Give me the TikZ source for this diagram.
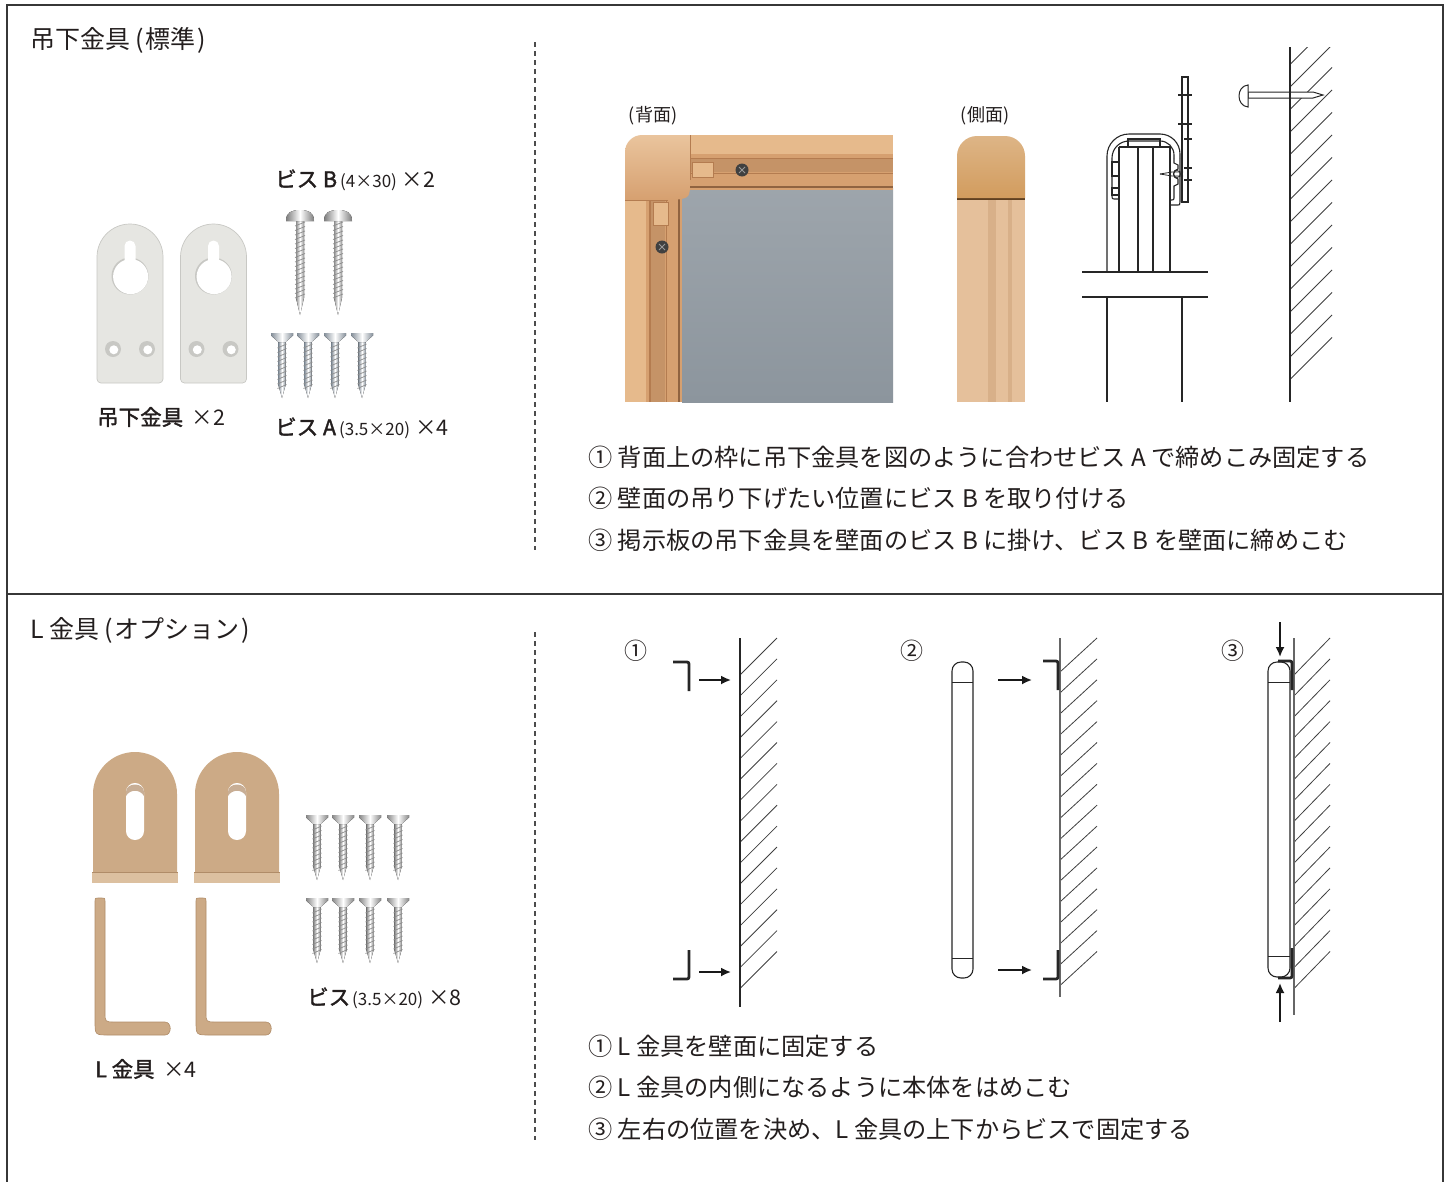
\documentclass[tikz,border=0pt]{standalone}
\usepackage{fontspec}
\newfontfamily\cjk{Noto Sans CJK JP}
\newfontfamily\cjkb{Noto Sans CJK JP}[FakeBold=1.6]
\usetikzlibrary{arrows.meta}

\definecolor{ink}{RGB}{35,30,30}
\definecolor{rulec}{RGB}{55,55,55}
\definecolor{plate}{RGB}{230,230,226}
\definecolor{plateedge}{RGB}{200,200,196}
\definecolor{tanbase}{RGB}{214,160,112}
\definecolor{tanlight}{RGB}{230,186,140}
\definecolor{tandark}{RGB}{180,124,80}
\definecolor{boardc}{RGB}{140,149,157}
\definecolor{capc}{RGB}{210,156,94}
\definecolor{woodc}{RGB}{229,192,155}
\definecolor{woodd}{RGB}{216,176,137}
\definecolor{lbr}{RGB}{204,170,134}
\definecolor{lbrlight}{RGB}{220,192,160}
\definecolor{lbrdark}{RGB}{176,140,104}
\definecolor{steelA}{RGB}{176,190,204}
\definecolor{steelB}{RGB}{178,178,178}

\tikzset{
  txt/.style={anchor=west, inner sep=0, text=ink, font={\cjk\fontsize{24.2}{27}\selectfont}},
  head/.style={anchor=west, inner sep=0, text=ink, font={\cjk\fontsize{25}{28}\selectfont}},
  lbl/.style={anchor=west, inner sep=0, text=ink, font={\cjk\fontsize{21.5}{24}\selectfont}},
  num/.style={inner sep=0, text=ink, font={\cjk\fontsize{23}{25}\selectfont}},
  line/.style={line width=1.1, draw=black!85},
  hatch/.style={line width=0.8, draw=black!75},
  bracketline/.style={line width=2.8, draw=black!85, rounded corners=2},
  push/.style={line width=1.8, draw=black!90, -{Latex[length=10,width=9]}},
  % hanger plate, origin at top centre
  hangplate/.pic={
    \fill[plate, draw=plateedge, line width=0.7] (-33,34) -- (-33,156) arc[start angle=180,end angle=90,radius=4]
      -- (29,160) arc[start angle=90,end angle=0,radius=4] -- (33,34)
      arc[start angle=0,end angle=-180,radius=33] -- cycle;
    \fill[plateedge] (0,53) circle (18.5);
    \fill[white] (0.6,53.6) circle (17.5);
    \fill[white] (-5.5,53) -- (-5.5,23) arc[start angle=180,end angle=360,radius=5.5] -- (5.5,53) -- cycle;
    \foreach \hx in {-17,17}{
      \fill[plateedge] (\hx,126) circle (8);
      \fill[white] (\hx+0.8,126.8) circle (4.5);
    }
  },
  % pan head screw, origin at top of head
  panscrew/.pic={
    \fill[left color=steelB!80!black, right color=steelB!80!black, middle color=white]
      (-4,9) -- (4,9) -- (4,88) -- (0,105) -- (-4,88) -- cycle;
    \foreach \t in {14,18.5,...,88}
      \draw[black!45, line width=0.7] (-5,\t+2) -- (5,\t-2);
    \fill[left color=steelB!70!black, right color=steelB!70!black, middle color=white]
      (-14,11) .. controls (-14,2) and (-8,0) .. (0,0) .. controls (8,0) and (14,2) .. (14,11) -- cycle;
  },
  % countersunk screw, origin at top of head
  cskscrew/.pic={
    \fill[left color=\pgfkeysvalueof{/tikz/screwtone}!75!black, right color=\pgfkeysvalueof{/tikz/screwtone}!75!black, middle color=white]
      (-3.6,9) -- (3.6,9) -- (3.6,52) -- (0,65) -- (-3.6,52) -- cycle;
    \foreach \t in {13,17.5,...,56}
      \draw[black!45, line width=0.7] (-4.6,\t+2) -- (4.6,\t-2);
    \fill[left color=\pgfkeysvalueof{/tikz/screwtone}!75!black, right color=\pgfkeysvalueof{/tikz/screwtone}!75!black, middle color=white]
      (-11,0) -- (11,0) -- (11,2.5) -- (3.6,9) -- (-3.6,9) -- (-11,2.5) -- cycle;
  },
  screwtone/.initial=steelB,
  % L bracket, front face, origin at top centre
  lfront/.pic={
    \fill[lbr] (-42,120) -- (-42,42) arc[start angle=180,end angle=360,radius=42] -- (42,120) -- cycle;
    \fill[lbrlight] (-43,120) rectangle (43,131);
    \draw[lbrdark, line width=0.8] (-43,120) -- (43,120);
    \fill[white, rounded corners=8.9] (-9,31) rectangle (9,88);
    \fill[lbrdark!70] (-9,40) .. controls (-9,30) and (9,30) .. (9,40) -- (9,44) .. controls (5,37) and (-5,37) .. (-9,44) -- cycle;
  },
  % L bracket, side profile, origin at top left
  lside/.pic={
    \fill[lbr, draw=lbrdark, line width=0.6] (0,3) .. controls (0,0) .. (3,0) -- (7,0) .. controls (10,0) .. (10,3)
      -- (10,114) .. controls (10,124) .. (20,124) -- (70,124) .. controls (77,124) and (77,137) .. (70,137)
      -- (14,137) .. controls (0,137) .. (0,123) -- cycle;
  },
}

\begin{document}
\begin{tikzpicture}[x=1pt,y=-1pt]
\useasboundingbox (0,0) rectangle (1451,1181);
\fill[white] (0,0) rectangle (1451,1181);

% outer frame and divider
\draw[rulec, line width=2.2] (7,1200) -- (7,5) -- (1443,5) -- (1443,1200);
\draw[rulec, line width=2.2] (7,594) -- (1443,594);
\draw[black!70, line width=1.1, dash pattern=on 5pt off 4pt] (535,42) -- (535,550);
\draw[black!70, line width=1.1, dash pattern=on 5pt off 4pt] (535,632) -- (535,1140);

% ================= upper section =================
\node[head] (t1) at (30,40) {吊下金具\hspace{5pt}(\hspace{2pt}標準\hspace{2pt})};

% hanger plates
\pic at (130,223) {hangplate};
\pic at (213.5,223) {hangplate};
\node[lbl] (l1) at (97,417) {{\cjkb 吊下金具}\, ×2};

% screws B and A
\pic at (300,210) {panscrew};
\pic at (338,210) {panscrew};
\foreach \sx in {282,308,335,362}
  \pic[screwtone=steelA] at (\sx,333) {cskscrew};
\node[lbl] (l2) at (275,180) {{\cjkb ビス B}\hspace{3pt}{\cjk\fontsize{17}{19}\selectfont (4×30)}\hspace{5pt}×2};
\node[lbl] (l3) at (275,428) {{\cjkb ビス A}\hspace{3pt}{\cjk\fontsize{17}{19}\selectfont (3.5×20)}\hspace{5pt}×4};

% back view of the frame corner
\node[num, font={\cjk\fontsize{18}{20}\selectfont}] (bv) at (653,116) {(背面)};
\shade[top color=boardc!85!white, bottom color=boardc] (682,188) rectangle (893,402);
\fill[tanbase] (690,135) rectangle (893,190);
\fill[tanlight] (690,135) rectangle (893,154);
\draw[tandark, line width=0.9] (690,158) -- (893,158);
\fill[tanbase!92!black] (690,159) rectangle (893,172);
\draw[tandark, line width=0.9] (690,173) -- (893,173);
\draw[tandark!80!black, line width=1.2] (690,187) -- (893,187);
\fill[tanbase] (625,195) rectangle (682,402);
\fill[tanlight] (625,195) rectangle (646,402);
\draw[tandark, line width=1.1] (650,195) -- (650,402);
\fill[tanbase!92!black] (651,195) rectangle (665,402);
\draw[tandark, line width=0.9] (666,195) -- (666,402);
\draw[tandark!80!black, line width=1.2] (679,195) -- (679,402);
\shade[top color=tanlight!85!white, bottom color=tanbase] (625,200) -- (625,152) arc[start angle=180,end angle=270,radius=17]
  -- (690,135) -- (690,180) .. controls (690,198) .. (674,200) -- cycle;
\draw[tandark, line width=0.8] (690,135) -- (690,180);
\draw[tandark, line width=0.8] (625,200) -- (668,200);
\fill[tanlight, draw=tandark, line width=0.6] (692,162) rectangle (713,177);
\fill[tanlight, draw=tandark, line width=0.6] (653,202) rectangle (668,225);
\foreach \sx/\sy in {742/170, 662/247}{
  \fill[black!75] (\sx,\sy) circle (6.5);
  \draw[black!40, line width=1] (\sx-3,\sy-3) -- (\sx+3,\sy+3) (\sx-3,\sy+3) -- (\sx+3,\sy-3);
}

% side view of the frame
\node[num, font={\cjk\fontsize{18}{20}\selectfont}] (sv) at (985,116) {(側面)};
\fill[woodc] (957,198) rectangle (1025,402);
\fill[woodd] (988,198) rectangle (996,402);
\fill[woodd] (1008,198) rectangle (1012,402);
\fill[black!50!brown] (957,197) rectangle (1025,200);
\shade[top color=capc!75!white, bottom color=capc] (957,198) -- (957,156) arc[start angle=180,end angle=270,radius=20]
  -- (1005,136) arc[start angle=270,end angle=360,radius=20] -- (1025,198) -- cycle;

% cross section of the frame on its bracket
\draw[line] (1082,272) -- (1208,272);
\draw[line] (1082,297) -- (1208,297);
\draw[line] (1107,297) -- (1107,402);
\draw[line] (1182,297) -- (1182,402);
\draw[line] (1107,272) -- (1107,156) arc[start angle=180,end angle=270,radius=22] -- (1160,134)
  arc[start angle=270,end angle=360,radius=20] -- (1180,158);
\draw[line] (1112,195) -- (1112,158) arc[start angle=180,end angle=270,radius=17] -- (1160,141)
  arc[start angle=270,end angle=360,radius=14] -- (1174,158);
\draw[line] (1112,162) rectangle (1119,176);
\draw[line] (1112,188) rectangle (1119,195);
\draw[line] (1112,195) .. controls (1112,199) .. (1116,199) -- (1119,199);
\draw[line, line width=2.2] (1119,147) -- (1119,272);
\draw[line] (1119,147) -- (1170,147) -- (1170,272);
\draw[line] (1138,147) -- (1138,272);
\draw[line] (1153,147) -- (1153,272);
\draw[line] (1128,147) -- (1128,139) -- (1160,139) -- (1160,147);
\draw[line] (1174,158) -- (1174,163) -- (1178,165) -- (1178,169) .. controls (1172,170) and (1172,178) .. (1178,179)
  -- (1178,184) -- (1174,186) -- (1174,196) .. controls (1174,200) .. (1170,200);
\draw[line] (1180,158) -- (1180,202) .. controls (1180,205) .. (1176,205) -- (1170,205);
\draw[line, fill=white] (1182,77) rectangle (1188,202);
\draw[line] (1178,95) -- (1192,95);
\draw[line] (1178,124) -- (1192,124);
\draw[line] (1184,139) -- (1192,139);
\draw[line] (1184,168) -- (1192,168);
\draw[line] (1184,180) -- (1192,180);
\draw[line, line width=0.8] (1160,174) -- (1172,172) -- (1183,172);
\draw[line, line width=0.8] (1160,174) -- (1172,176) -- (1183,176);
\draw[line, line width=0.8] (1177,174) circle (3.5);

% wall with the nail
\begin{scope}
  \clip (1290,47) rectangle (1340,402);
  \foreach \k in {-1,...,13}
    \draw[hatch] (1290,87+22.5*\k) -- (1332,45+22.5*\k);
\end{scope}
\fill[white, draw=black!85, line width=1] (1248,92) -- (1313,92) -- (1323,95) -- (1313,98) -- (1248,98) -- cycle;
\fill[white, draw=black!85, line width=1] (1248,85) .. controls (1236,86) and (1236,106) .. (1248,107) -- cycle;
\draw[line] (1290,47) -- (1290,402);

% instructions
\node[txt] (u1) at (588,457) {① 背面上の枠に吊下金具を図のように合わせビス A で締めこみ固定する};
\node[txt] (u2) at (588,498) {② 壁面の吊り下げたい位置にビス B を取り付ける};
\node[txt] (u3) at (588,540) {③ 掲示板の吊下金具を壁面のビス B に掛け、ビス B を壁面に締めこむ};

% ================= lower section =================
\node[head] (t2) at (30,630) {L 金具\hspace{5pt}(\hspace{2pt}オプション\hspace{2pt})};

\pic at (135,752) {lfront};
\pic at (237,752) {lfront};
\pic at (95,898) {lside};
\pic at (196,898) {lside};
\node[lbl] (l4) at (95,1069) {{\cjkb L 金具}\, ×4};

\foreach \sx in {317,343,370,398}{
  \pic at (\sx,815) {cskscrew};
  \pic at (\sx,898) {cskscrew};
}
\node[lbl] (l5) at (307,998) {{\cjkb ビス}\hspace{2pt}{\cjk\fontsize{17}{19}\selectfont (3.5×20)}\hspace{5pt}×8};

% step 1: brackets onto the wall
\node[num] (n1) at (636,651) {①};
\foreach \k in {0,...,15}
  \draw[hatch] (740,675+20.9*\k) -- (777,638+20.9*\k);
\draw[line] (740,638) -- (740,1007);
\draw[bracketline] (673,662) -- (689,662) -- (689,691);
\draw[bracketline] (689,950) -- (689,979) -- (673,979);
\coordinate (a1s) at (699,680); \coordinate (a1e) at (731,680);
\coordinate (a2s) at (699,972); \coordinate (a2e) at (731,972);
\draw[push] (a1s) -- (a1e);
\draw[push] (a2s) -- (a2e);

% step 2: the board goes between the brackets
\node[num] (n2) at (912,651) {②};
\foreach \k in {0,...,15}
  \draw[hatch] (1060,672+20.9*\k) -- (1097,638+20.9*\k);
\draw[line, draw=black!60] (1060,638) -- (1060,997);
\draw[line, rounded corners=9] (952,662) rectangle (973,978);
\draw[line, line width=0.9] (952,682) -- (973,682);
\draw[line, line width=0.9] (952,958) -- (973,958);
\draw[bracketline] (1043,661) -- (1058,661) -- (1058,690);
\draw[bracketline] (1058,950) -- (1058,979) -- (1043,979);
\coordinate (b1s) at (998,680); \coordinate (b1e) at (1032,680);
\coordinate (b2s) at (998,970); \coordinate (b2e) at (1032,970);
\draw[push] (b1s) -- (b1e);
\draw[push] (b2s) -- (b2e);

% step 3: screws from above and below
\node[num] (n3) at (1233,651) {③};
\foreach \k in {0,...,15}
  \draw[hatch] (1294,675+20.9*\k) -- (1330,638+20.9*\k);
\draw[line, draw=black!60] (1294,638) -- (1294,1015);
\draw[line, rounded corners=9] (1268,662) rectangle (1290,977);
\draw[line, line width=0.9] (1268,682) -- (1290,682);
\draw[line, line width=0.9] (1268,956) -- (1290,956);
\draw[bracketline] (1278,661) -- (1292,661) -- (1292,690);
\draw[bracketline] (1292,948) -- (1292,978) -- (1278,978);
\coordinate (c1s) at (1280,622); \coordinate (c1e) at (1280,657);
\coordinate (c2s) at (1280,1022); \coordinate (c2e) at (1280,983);
\draw[push] (c1s) -- (c1e);
\draw[push] (c2s) -- (c2e);

% instructions
\node[txt] (d1) at (588,1046) {① L 金具を壁面に固定する};
\node[txt] (d2) at (588,1087) {② L 金具の内側になるように本体をはめこむ};
\node[txt] (d3) at (588,1129) {③ 左右の位置を決め、L 金具の上下からビスで固定する};
\end{tikzpicture}
\end{document}
